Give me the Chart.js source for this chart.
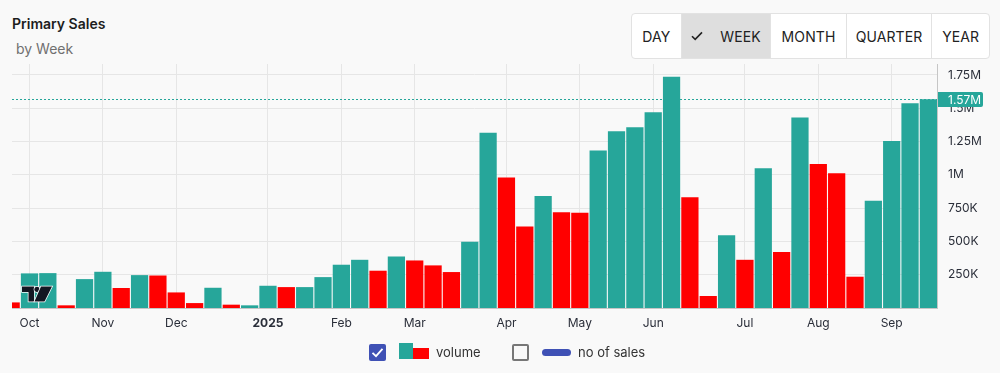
<!DOCTYPE html>
<html><head><meta charset="utf-8">
<script src="https://cdn.jsdelivr.net/npm/chart.js@4.4.1/dist/chart.umd.min.js"></script>
<style>
html,body{margin:0;padding:0;width:1000px;height:373px;overflow:hidden;background:#f9f9f9;font-family:Inter,"Noto Sans",sans-serif;}
#title{position:absolute;left:12px;top:15px;font-size:14px;font-weight:600;color:#1d1d1d;line-height:17px;}
#sub{position:absolute;left:16px;top:40px;font-size:14px;color:#707070;line-height:17px;}
#btns{position:absolute;left:631px;top:13px;width:359px;height:46px;display:flex;border:1px solid #e2e2e2;border-radius:4px;background:#fff;box-sizing:border-box;overflow:hidden;}
.b{display:flex;align-items:center;justify-content:center;font-size:14px;color:#222;border-left:1px solid #e2e2e2;box-sizing:border-box;height:100%;letter-spacing:0.1px;}
.b:first-child{border-left:none;}
.sel{background:#dedede;}
#legend{position:absolute;left:0;top:0;width:1000px;height:373px;pointer-events:none;}
.cb{position:absolute;top:344px;width:17px;height:17px;box-sizing:border-box;border-radius:2px;}
.lt{position:absolute;top:344px;font-size:13px;color:#333;line-height:17px;}
canvas{position:absolute;left:0;top:0;}
</style></head>
<body>
<div id="title">Primary Sales</div>
<div id="sub">by Week</div>
<div id="btns">
  <div class="b" style="width:49px">DAY</div>
  <div class="b sel" style="width:90px"><svg width="12" height="10" viewBox="0 0 12 10" style="margin-right:17px"><path d="M1 5.2 L4.2 8.4 L11 1.4" fill="none" stroke="#222" stroke-width="1.6"/></svg>WEEK</div>
  <div class="b" style="width:76px">MONTH</div>
  <div class="b" style="width:86px">QUARTER</div>
  <div class="b" style="width:58px">YEAR</div>
</div>
<canvas id="c" width="1000" height="373"></canvas>
<div id="legend">
  <div class="cb" style="left:369px;background:#3f51b5;"><svg width="17" height="17" viewBox="0 0 17 17"><path d="M3.5 8.8 L7 12.2 L13.5 4.8" fill="none" stroke="#fff" stroke-width="1.8"/></svg></div>
  <div style="position:absolute;left:399px;top:343px;width:14px;height:16px;background:#26a69a;"></div>
  <div style="position:absolute;left:413px;top:348px;width:16px;height:11px;background:#ff0000;"></div>
  <div class="lt" style="left:436px;">volume</div>
  <div class="cb" style="left:512px;border:2px solid #777;"></div>
  <div style="position:absolute;left:542px;top:349px;width:29px;height:7px;border-radius:4px;background:#3f51b5;"></div>
  <div class="lt" style="left:578px;">no of sales</div>
</div>
<script>
// ---- data ----
const weekStarts = ['2024-09-30','2024-10-07','2024-10-14','2024-10-21','2024-10-28','2024-11-04','2024-11-11','2024-11-18','2024-11-25','2024-12-02','2024-12-09','2024-12-16','2024-12-23','2024-12-30','2025-01-06','2025-01-13','2025-01-20','2025-01-27','2025-02-03','2025-02-10','2025-02-17','2025-02-24','2025-03-03','2025-03-10','2025-03-17','2025-03-24','2025-03-31','2025-04-07','2025-04-14','2025-04-21','2025-04-28','2025-05-05','2025-05-12','2025-05-19','2025-05-26','2025-06-02','2025-06-09','2025-06-16','2025-06-23','2025-06-30','2025-07-07','2025-07-14','2025-07-21','2025-07-28','2025-08-04','2025-08-11','2025-08-18','2025-08-25','2025-09-01','2025-09-08','2025-09-15'];
const volume = [42000,260000,262000,20000,217000,272000,150000,247000,244000,117000,37000,152000,25000,20000,167000,157000,157000,232000,325000,362000,280000,387000,357000,320000,270000,497000,1317000,980000,612000,842000,720000,715000,1182000,1327000,1357000,1470000,1737000,832000,90000,547000,362000,1050000,420000,1430000,1082000,1012000,235000,805000,1255000,1537000,1567000];
const weekUp = [0,1,1,0,1,1,0,1,0,0,0,1,0,1,1,0,1,1,1,1,0,1,0,0,0,1,1,0,0,1,0,0,1,1,1,1,1,0,0,1,0,1,0,1,0,0,0,1,1,1,1];
const monthNames = ['Jan','Feb','Mar','Apr','May','Jun','Jul','Aug','Sep','Oct','Nov','Dec'];
const yTickValues = [250000,500000,750000,1000000,1250000,1500000,1750000];

const UP = '#26a69a', DOWN = '#ff0000';

// month ticks: first week of each new month
const monthTicks = [];
for (let i = 1; i < weekStarts.length; i++) {
  const m = +weekStarts[i].slice(5,7), pm = +weekStarts[i-1].slice(5,7);
  if (m !== pm) monthTicks.push({value: i, label: m === 1 ? weekStarts[i].slice(0,4) : monthNames[m-1], year: m === 1});
}
function fmt(v){ if (v >= 1e6) return (v/1e6).toString().replace(/\.?0+$/,'') + 'M'; return (v/1e3) + 'K'; }

const lastLine = {
  id: 'lastLine',
  afterDatasetsDraw(chart) {
    const ctx = chart.ctx, a = chart.chartArea, ys = chart.scales.y;
    const y = Math.round(ys.getPixelForValue(volume[volume.length-1])) + 0.5;
    ctx.save();
    ctx.strokeStyle = UP; ctx.lineWidth = 1; ctx.setLineDash([2,2]);
    ctx.beginPath(); ctx.moveTo(a.left, y); ctx.lineTo(a.right, y); ctx.stroke();
    ctx.restore();
    // logo
    ctx.save();
    ctx.translate(22, 286.5);
    ctx.fillStyle = '#131722'; ctx.strokeStyle = '#fff'; ctx.lineWidth = 1.5; ctx.lineJoin = 'miter';
    ctx.beginPath();
    ctx.moveTo(0,0); ctx.lineTo(12,0); ctx.lineTo(12,15); ctx.lineTo(6.5,15); ctx.lineTo(6.5,5.5); ctx.lineTo(0,5.5); ctx.closePath();
    ctx.stroke(); ctx.fill();
    ctx.beginPath(); ctx.arc(15,2.8,2.6,0,Math.PI*2); ctx.stroke(); ctx.fill();
    ctx.beginPath(); ctx.moveTo(19,0); ctx.lineTo(30,0); ctx.lineTo(22.5,15); ctx.lineTo(12.5,15); ctx.closePath(); ctx.stroke(); ctx.fill();
    ctx.restore();
  },
  afterDraw(chart) {
    const ctx = chart.ctx, a = chart.chartArea, ys = chart.scales.y;
    const v = volume[volume.length-1];
    const y = Math.round(ys.getPixelForValue(v)) + 0.5;
    ctx.save();
    ctx.fillStyle = UP;
    ctx.beginPath();
    ctx.roundRect(a.right + 1, y - 7.5, 45, 15, [0,2,2,0]);
    ctx.fill();
    ctx.fillStyle = '#fff'; ctx.font = '12px Inter'; ctx.textBaseline = 'middle'; ctx.textAlign = 'left';
    ctx.fillText((v/1e6).toFixed(2) + 'M', a.right + 11, y + 0.5);
    ctx.restore();
  }
};

new Chart(document.getElementById('c'), {
  type: 'bar',
  data: {
    datasets: [{
      label: 'volume',
      data: volume.map((v,i) => ({x: i, y: v})),
      backgroundColor: weekUp.map(u => u ? UP : DOWN),
      borderWidth: 0,
      barPercentage: 0.94,
      categoryPercentage: 1
    }]
  },
  options: {
    responsive: false, animation: false, devicePixelRatio: 1,
    layout: {padding: {top: 64, left: 12, right: 0, bottom: 0}},
    plugins: {legend: {display: false}, tooltip: {enabled: false}},
    scales: {
      x: {
        type: 'linear', min: 0.046, max: 50.47, offset: false,
        afterBuildTicks(s){ s.ticks = monthTicks.map(t => ({value: t.value})); },
        afterFit(s){ s.height = 65; },
        grid: {color: '#e6e6e6', drawTicks: false, offset: false},
        border: {display: true, color: '#c6c6c6'},
        ticks: {
          autoSkip: false, maxRotation: 0, padding: 8, color: '#2a2e39',
          font: ctx => ({family: 'Inter', size: 12, weight: (monthTicks[ctx.index] && monthTicks[ctx.index].year) ? 'bold' : 'normal'}),
          callback: (v, i) => monthTicks[i] ? monthTicks[i].label : ''
        }
      },
      y: {
        position: 'right', min: 0, max: 1832500,
        afterBuildTicks(s){ s.ticks = yTickValues.map(v => ({value: v})); },
        afterFit(s){ s.width = 63; },
        grid: {color: '#e6e6e6', drawTicks: false},
        border: {display: true, color: '#c6c6c6'},
        ticks: {padding: 11, color: '#2a2e39', font: {family: 'Inter', size: 12}, callback: v => fmt(v)}
      }
    }
  },
  plugins: [lastLine]
});
</script>
</body></html>
